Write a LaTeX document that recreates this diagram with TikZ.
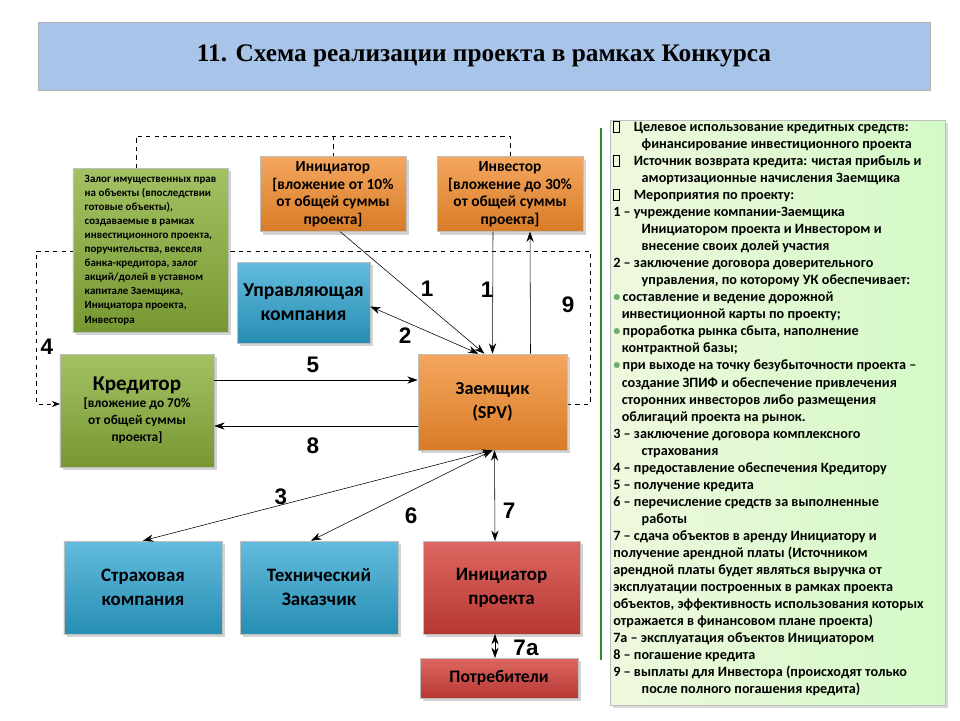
\documentclass[tikz,border=0pt]{standalone}
\usepackage{fontspec}
\setmainfont{Carlito}
\newfontfamily\titlefont{Liberation Serif}
\newfontfamily\numfont{Liberation Sans}
\usetikzlibrary{arrows.meta,positioning,calc,shadows}

\definecolor{boxorange}{HTML}{F0892A}
\definecolor{boxblue}{HTML}{2EA6D2}
\definecolor{boxgreen}{HTML}{8CB23C}
\definecolor{boxred}{HTML}{D6413B}
\definecolor{titleblue}{HTML}{A8C4E8}
\definecolor{panelgreen}{HTML}{E3F4C8}
\definecolor{linegreen}{HTML}{2E8B2E}

\tikzset{
  box/.style={draw=black!25, align=center, font=\bfseries, drop shadow={opacity=0.35}},
  orangebox/.style={box, top color=boxorange!75!white, bottom color=boxorange!90!black},
  bluebox/.style={box, top color=boxblue!75!white, bottom color=boxblue!85!black},
  greenbox/.style={box, top color=boxgreen!80!white, bottom color=boxgreen!85!black},
  redbox/.style={box, top color=boxred!80!white, bottom color=boxred!85!black},
  link/.style={-{Stealth[length=2.6mm,width=1.8mm]}, thin},
  twolink/.style={{Stealth[length=2.6mm,width=1.8mm]}-{Stealth[length=2.6mm,width=1.8mm]}, thin},
  dashlink/.style={dashed, thin},
  num/.style={font=\numfont\bfseries\fontsize{16}{16}\selectfont},
}
\newcommand{\sqmark}{{\setlength\fboxsep{0pt}\setlength\fboxrule{0.5pt}\fbox{\rule{0pt}{7pt}\hspace{3.5pt}}}\hspace{1em}}
\newcommand{\gbul}{\textcolor{linegreen!70}{•}\,}

\begin{document}
\begin{tikzpicture}[x=0.25mm, y=-0.25mm]
  \useasboundingbox (0,0) rectangle (960,720);

  % dashed links (behind the boxes)
  \draw[dashlink] (136,168) -- (136,136) -- (510,136) -- (510,158);
  \draw[dashlink] (333,136) -- (333,158);
  \draw[dashlink, -{Stealth[length=2mm,width=1.5mm]}] (567,404) -| (590,251) -- (36,251) -- (36,404) -- (60,404);

  % title
  \node[draw=black!30, fill=titleblue, minimum width=223mm, minimum height=17mm,
        font=\titlefont\bfseries\fontsize{18}{18}\selectfont] (title) at (484,56)
        {11. Схема реализации проекта в рамках Конкурса};

  % boxes
  \node[greenbox, minimum width=38.75mm, minimum height=41mm, align=left,
        font=\bfseries\fontsize{7.8}{10}\selectfont] (note) at (150.5,250)
        {Залог имущественных прав\\на объекты (впоследствии\\готовые объекты),\\создаваемые в рамках\\инвестиционного проекта,\\поручительства, векселя\\банка-кредитора, залог\\акций/долей в уставном\\капитале Заемщика,\\Инициатора проекта,\\Инвестора};
  \node[orangebox, minimum width=36.5mm, minimum height=18mm,
        font=\bfseries\fontsize{11}{12.5}\selectfont] (initTop) at (333,194)
        {Инициатор\\{[}вложение от 10\%\\от общей суммы\\проекта{]}};
  \node[orangebox, minimum width=36.5mm, minimum height=18mm,
        font=\bfseries\fontsize{11}{12.5}\selectfont] (invTop) at (510,194)
        {Инвестор\\{[}вложение до 30\%\\от общей суммы\\проекта{]}};
  \node[bluebox, minimum width=33.25mm, minimum height=20.25mm,
        font=\bfseries\fontsize{14}{17}\selectfont] (uk) at (303.5,302.5)
        {Управляющая\\компания};
  \node[greenbox, minimum width=38.5mm, minimum height=28.25mm,
        font=\bfseries\fontsize{9.5}{12}\selectfont] (kred) at (137,410.5)
        {{\fontsize{15}{20}\selectfont Кредитор}\\{[}вложение до 70\%\\от общей суммы\\проекта{]}};
  \node[orangebox, minimum width=37.25mm, minimum height=24mm,
        font=\bfseries\fontsize{13}{17}\selectfont] (zaem) at (492.5,402)
        {Заемщик\\(SPV)};
  \node[bluebox, minimum width=39.5mm, minimum height=23.25mm,
        font=\bfseries\fontsize{13.5}{17}\selectfont] (strakh) at (143,587.5)
        {Страховая\\компания};
  \node[bluebox, minimum width=39.5mm, minimum height=23.25mm,
        font=\bfseries\fontsize{13.5}{17}\selectfont] (tech) at (319,587.5)
        {Технический\\Заказчик};
  \node[redbox, minimum width=39.25mm, minimum height=23.25mm,
        font=\bfseries\fontsize{13.5}{17}\selectfont] (initPr) at (501.5,587.5)
        {Инициатор\\проекта};
  \node[redbox, minimum width=39.5mm, minimum height=10mm,
        font=\bfseries\fontsize{12.5}{14}\selectfont] (potr) at (499,678)
        {Потребители};

  % connectors
  \draw[link] ([xshift=1.75mm]initTop.south) -- ([xshift=-2mm]zaem.north);
  \draw[link] ([xshift=-4.25mm]invTop.south) -- (zaem.north);
  \draw[link] ([xshift=9.5mm]zaem.north) -- ([xshift=5mm]invTop.south);
  \draw[twolink] ([yshift=-1mm]uk.east) -- ([xshift=-3.5mm]zaem.north);
  \draw[link] (kred.east |- 0,380) -- (zaem.west |- 0,380);
  \draw[link] (zaem.west |- 0,426) -- (kred.east |- 0,426);
  \draw[twolink] (strakh.north) -- (zaem.south);
  \draw[twolink] ([xshift=-2mm]tech.north) -- (zaem.south);
  \draw[twolink] ([xshift=0.5mm]zaem.south) -- (495,541);
  \draw[twolink] (495,634) -- (495,658);

  % numbers
  \node[num] (n1a) at (427,289) {1};
  \node[num] (n1b) at (487,290) {1};
  \node[num] (n9) at (568,305) {9};
  \node[num] (n2) at (405,336) {2};
  \node[num] (n4) at (47,347) {4};
  \node[num] (n5) at (313,365) {5};
  \node[num] (n8) at (313,446) {8};
  \node[num] (n3) at (281,497) {3};
  \node[num] (n6) at (411,516) {6};
  \node[num] (n7) at (509,511) {7};
  \node[num] (n7a) at (526,648) {7а};

  % right panel
  \draw[linegreen, line width=1.2pt] (601,128) -- (601,660);
  \node[draw=black!25, left color=panelgreen!60!white, right color=panelgreen!80!green!60,
        minimum width=83.75mm, minimum height=146.25mm, drop shadow={opacity=0.3}] (panel) at (777.5,412.5) {};
  \node[anchor=north west, align=left, inner sep=0pt,
        font=\bfseries\fontsize{10.1}{12.1}\selectfont] (ptext) at (613,121)
  {\sqmark Целевое использование кредитных средств:\\
   \hspace*{2em}финансирование инвестиционного проекта\\
   \sqmark Источник возврата кредита: чистая прибыль и\\
   \hspace*{2em}амортизационные начисления Заемщика\\
   \sqmark Мероприятия по проекту:\\
   1 -- учреждение компании-Заемщика\\
   \hspace*{2em}Инициатором проекта и Инвестором и\\
   \hspace*{2em}внесение своих долей участия\\
   2 -- заключение договора доверительного\\
   \hspace*{2em}управления, по которому УК обеспечивает:\\
   \gbul составление и ведение дорожной\\
   \hspace*{0.6em}инвестиционной карты по проекту;\\
   \gbul проработка рынка сбыта, наполнение\\
   \hspace*{0.6em}контрактной базы;\\
   \gbul при выходе на точку безубыточности проекта --\\
   \hspace*{0.6em}создание ЗПИФ и обеспечение привлечения\\
   \hspace*{0.6em}сторонних инвесторов либо размещения\\
   \hspace*{0.6em}облигаций проекта на рынок.\\
   3 -- заключение договора комплексного\\
   \hspace*{2em}страхования\\
   4 -- предоставление обеспечения Кредитору\\
   5 -- получение кредита\\
   6 -- перечисление средств за выполненные\\
   \hspace*{2em}работы\\
   7 -- сдача объектов в аренду Инициатору и\\
   получение арендной платы (Источником\\
   арендной платы будет являться выручка от\\
   эксплуатации построенных в рамках проекта\\
   объектов, эффективность использования которых\\
   отражается в финансовом плане проекта)\\
   7а -- эксплуатация объектов Инициатором\\
   8 -- погашение кредита\\
   9 -- выплаты для Инвестора (происходят только\\
   \hspace*{2em}после полного погашения кредита)};
\end{tikzpicture}
\end{document}
